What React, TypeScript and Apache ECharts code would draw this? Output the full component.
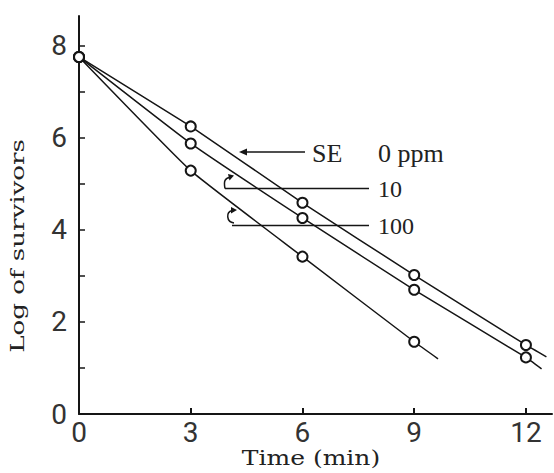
import React, { useEffect, useRef } from "react";
import * as echarts from "echarts";

// Data
const times = [0, 3, 6, 9, 12];
const ppm0 = [7.76, 6.25, 4.59, 3.02, 1.5];
const ppm10 = [7.76, 5.88, 4.26, 2.7, 1.23];
const ppm100 = [7.76, 5.29, 3.42, 1.57];
// where the drawn (fitted) lines end
const lineEnd0 = [12.55, 1.24];
const lineEnd10 = [12.42, 0.98];
const lineEnd100 = [9.64, 1.2];
// axis ticks / labels
const xTicks = [0, 3, 6, 9, 12];
const yTicks = [0, 1, 2, 3, 4, 5, 6, 7, 8];
const yLabels = [0, 2, 4, 6, 8];

const INK = "#151515";
const DIGIT_FONT = "Roboto, 'Liberation Sans', sans-serif";
const SERIF = "'DejaVu Serif', 'Liberation Serif', serif";
const SERIF2 = "'Liberation Serif', 'DejaVu Serif', serif";

function buildData(vals: number[], end: number[]) {
  const d: any[] = vals.map((v, i) => [times[i], v]);
  d.push({ value: end, symbol: "none" });
  return d;
}

function lineSeries(name: string, vals: number[], end: number[]) {
  return {
    name,
    type: "line",
    data: buildData(vals, end),
    smooth: 0.12,
    symbol: "emptyCircle",
    symbolSize: 10,
    itemStyle: { color: INK, borderWidth: 1.5 },
    lineStyle: { color: INK, width: 1.5 },
    z: 3,
  };
}

export default function App() {
  const ref = useRef<HTMLDivElement>(null);
  useEffect(() => {
    document.body.style.margin = "0";
    if (!ref.current) return;
    const chart = echarts.init(ref.current, undefined, { renderer: "svg" });
    const lineW = 1.5;
    chart.setOption({
      animation: false,
      backgroundColor: "#ffffff",
      grid: { left: 79, right: 2, top: 16, bottom: 59, containLabel: false },
      xAxis: {
        type: "value",
        min: 0,
        max: 12.7,
        interval: 3,
        axisLine: { show: true, onZero: false, lineStyle: { color: INK, width: 2 } },
        axisTick: { show: true, inside: true, length: 6, customValues: xTicks, lineStyle: { color: INK, width: 2 } },
        axisLabel: {
          customValues: xTicks,
          margin: 4,
          color: "#333",
          fontSize: 28,
          fontFamily: DIGIT_FONT,
        },
        splitLine: { show: false },
      },
      yAxis: {
        type: "value",
        min: 0,
        max: 8.65,
        interval: 1,
        axisLine: { show: true, onZero: false, lineStyle: { color: INK, width: 2 } },
        axisTick: { show: true, inside: true, length: 6, customValues: yTicks, lineStyle: { color: INK, width: 1.5 } },
        axisLabel: {
          customValues: yLabels,
          margin: 12,
          color: "#333",
          fontSize: 28,
          fontFamily: DIGIT_FONT,
        },
        splitLine: { show: false },
      },
      series: [
        lineSeries("0 ppm", ppm0, lineEnd0),
        lineSeries("10 ppm", ppm10, lineEnd10),
        lineSeries("100 ppm", ppm100, lineEnd100),
      ],
      graphic: [
        // axis titles
        {
          type: "text",
          x: 18,
          y: 246,
          rotation: Math.PI / 2,
          scaleX: 1.45,
          style: {
            text: "Log of survivors",
            font: `18px ${SERIF}`,
            fill: "#222",
            textAlign: "center",
            textVerticalAlign: "middle",
          },
        },
        {
          type: "text",
          x: 311,
          y: 458,
          scaleX: 1.19,
          style: {
            text: "Time (min)",
            font: `21px ${SERIF}`,
            fill: "#222",
            textAlign: "center",
            textVerticalAlign: "middle",
          },
        },
        // SE arrow
        { type: "line", shape: { x1: 244, y1: 152, x2: 305, y2: 152 }, style: { stroke: INK, lineWidth: lineW } },
        { type: "polygon", shape: { points: [[239, 152], [247, 148.5], [247, 155.5]] }, style: { fill: INK } },
        {
          type: "text",
          x: 312,
          y: 153,
          style: { text: "SE", font: `26px ${SERIF2}`, fill: "#222", textAlign: "left", textVerticalAlign: "middle" },
        },
        {
          type: "text",
          x: 378,
          y: 153,
          style: { text: "0 ppm", font: `26px ${SERIF2}`, fill: "#222", textAlign: "left", textVerticalAlign: "middle" },
        },
        // 10 ppm pointer
        { type: "line", shape: { x1: 225, y1: 188.5, x2: 369, y2: 188.5 }, style: { stroke: INK, lineWidth: lineW } },
        {
          type: "bezierCurve",
          shape: { x1: 225, y1: 188.5, cpx1: 223.5, cpy1: 181, cpx2: 225, cpy2: 178, x2: 230, y2: 177.5 },
          style: { stroke: INK, lineWidth: lineW, fill: "none" },
        },
        { type: "polygon", shape: { points: [[234, 175.5], [228, 174], [229.5, 180.5]] }, style: { fill: INK } },
        {
          type: "text",
          x: 378,
          y: 189,
          style: { text: "10", font: `24px ${SERIF2}`, fill: "#222", textAlign: "left", textVerticalAlign: "middle" },
        },
        // 100 ppm pointer
        { type: "line", shape: { x1: 232, y1: 225.5, x2: 369, y2: 225.5 }, style: { stroke: INK, lineWidth: lineW } },
        {
          type: "bezierCurve",
          shape: { x1: 234, y1: 223, cpx1: 226, cpy1: 222, cpx2: 226, cpy2: 212, x2: 232, y2: 210.5 },
          style: { stroke: INK, lineWidth: lineW, fill: "none" },
        },
        { type: "polygon", shape: { points: [[237, 210], [231, 207], [231, 213.5]] }, style: { fill: INK } },
        {
          type: "text",
          x: 378,
          y: 226,
          style: { text: "100", font: `24px ${SERIF2}`, fill: "#222", textAlign: "left", textVerticalAlign: "middle" },
        },
      ],
    });
    return () => chart.dispose();
  }, []);
  return <div ref={ref} style={{ width: 554, height: 473 }} />;
}
